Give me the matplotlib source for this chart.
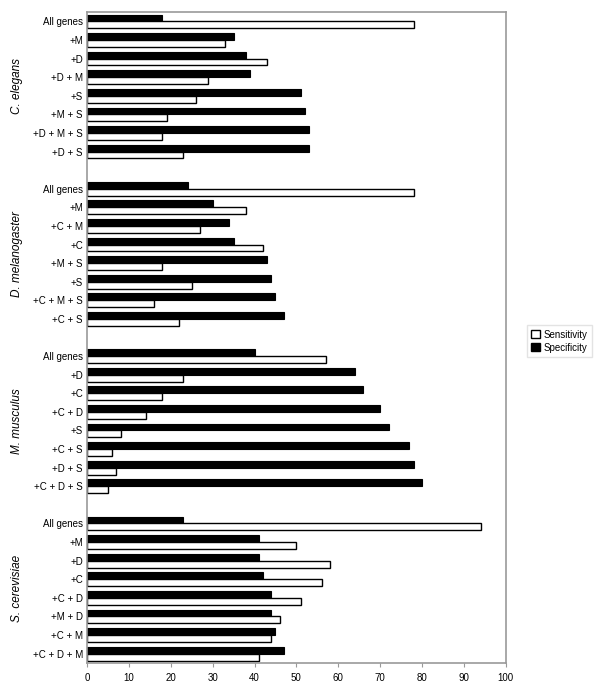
import matplotlib
matplotlib.use("Agg")
import matplotlib.pyplot as plt
from matplotlib.patches import Patch
from matplotlib.transforms import blended_transform_factory

plt.rcParams['font.family'] = ['Liberation Sans', 'DejaVu Sans']

species = ["C. elegans", "D. melanogaster", "M. musculus", "S. cerevisiae"]

cats_ce = ["All genes", "+M", "+D", "+D + M", "+S", "+M + S", "+D + M + S", "+D + S"]
spec_ce = [18, 35, 38, 39, 51, 52, 53, 53]
sens_ce = [78, 33, 43, 29, 26, 19, 18, 23]

cats_dm = ["All genes", "+M", "+C + M", "+C", "+M + S", "+S", "+C + M + S", "+C + S"]
spec_dm = [24, 30, 34, 35, 43, 44, 45, 47]
sens_dm = [78, 38, 27, 42, 18, 25, 16, 22]

cats_mm = ["All genes", "+D", "+C", "+C + D", "+S", "+C + S", "+D + S", "+C + D + S"]
spec_mm = [40, 64, 66, 70, 72, 77, 78, 80]
sens_mm = [57, 23, 18, 14, 8, 6, 7, 5]

cats_sc = ["All genes", "+M", "+D", "+C", "+C + D", "+M + D", "+C + M", "+C + D + M"]
spec_sc = [23, 41, 41, 42, 44, 44, 45, 47]
sens_sc = [94, 50, 58, 56, 51, 46, 44, 41]

groups = [(cats_ce, spec_ce, sens_ce), (cats_dm, spec_dm, sens_dm),
          (cats_mm, spec_mm, sens_mm), (cats_sc, spec_sc, sens_sc)]

fig = plt.figure(figsize=(6.0, 6.92), dpi=100)
ax = fig.add_axes([0.145, 0.042, 0.698, 0.9405])

h = 0.37
ticks, labels = [], []
trans = blended_transform_factory(ax.transAxes, ax.transData)
for g, (cats, spec, sens) in enumerate(groups):
    base = g * 9
    pos = [base + i for i in range(len(cats))]
    ax.barh([p - h / 2 for p in pos], spec, height=h, color='black',
            edgecolor='black', linewidth=0.8)
    ax.barh([p + h / 2 for p in pos], sens, height=h, color='white',
            edgecolor='black', linewidth=1.0)
    ticks += pos
    labels += cats
    ax.text(-0.167, base + 3.5, species[g], transform=trans, rotation=90,
            ha='center', va='center', fontsize=8.5, style='italic')

ax.set_yticks(ticks)
ax.set_yticklabels(labels, fontsize=7)
ax.tick_params(axis='y', length=0, pad=3)
ax.set_ylim(34.5, -0.5)
ax.set_xlim(0, 100)
ax.set_xticks(range(0, 101, 10))
ax.tick_params(axis='x', labelsize=7, length=3, color='#999999', pad=4)
for s in ax.spines.values():
    s.set_color('#999999')
    s.set_linewidth(1.2)

handles = [Patch(facecolor='white', edgecolor='black', label='Sensitivity'),
           Patch(facecolor='black', edgecolor='black', label='Specificity')]
fig.legend(handles=handles, loc='center', bbox_to_anchor=(0.932, 0.507),
           fontsize=7, frameon=True, fancybox=False, edgecolor='#dddddd',
           handlelength=0.9, handleheight=0.9, handletextpad=0.3,
           borderpad=0.5, labelspacing=0.3)

fig.savefig("out.png", dpi=100)
